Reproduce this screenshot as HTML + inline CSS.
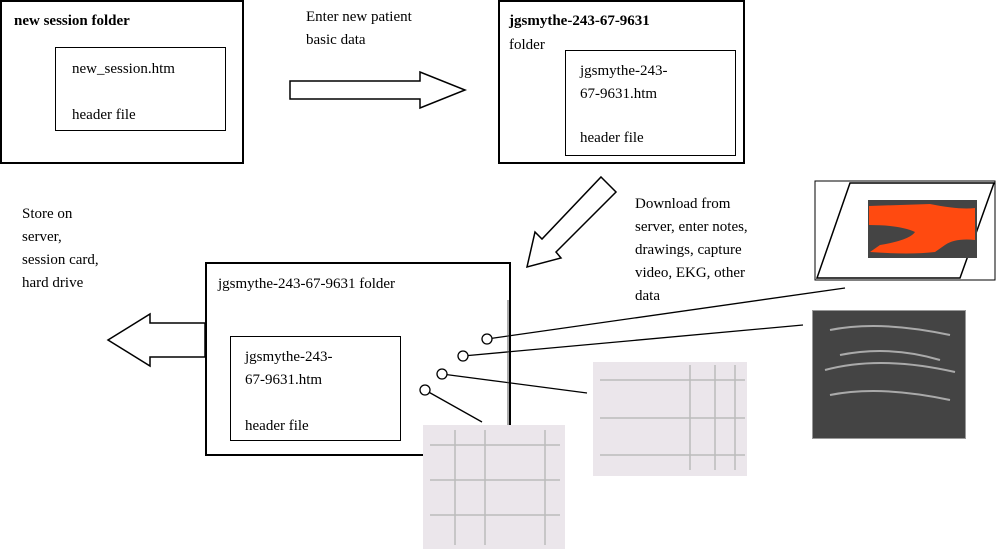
<!DOCTYPE html>
<html><head><meta charset="utf-8"><style>
body{margin:0;width:996px;height:551px;background:#fff;position:relative;overflow:hidden;font-family:"Liberation Serif",serif;font-size:15px;color:#000}
.b{position:absolute;border:2px solid #000;box-sizing:border-box}
.t{position:absolute;white-space:nowrap;line-height:23px}
</style></head><body>
<div class="b" style="left:0;top:0;width:244px;height:164px"></div>
<div class="b" style="left:55px;top:47px;width:171px;height:84px;border-width:1px"></div>
<div class="t" style="left:14px;top:10px;font-weight:bold">new session folder</div>
<div class="t" style="left:72px;top:58px">new_session.htm</div>
<div class="t" style="left:72px;top:104px">header file</div>

<div class="t" style="left:306px;top:6px">Enter new patient<br>basic data</div>

<div class="b" style="left:498px;top:0;width:247px;height:164px"></div>
<div class="b" style="left:565px;top:50px;width:171px;height:106px;border-width:1px"></div>
<div class="t" style="left:509px;top:10px;font-weight:bold">jgsmythe-243-67-9631</div>
<div class="t" style="left:509px;top:34px">folder</div>
<div class="t" style="left:580px;top:60px">jgsmythe-243-<br>67-9631.htm</div>
<div class="t" style="left:580px;top:127px">header file</div>

<div class="t" style="left:635px;top:193px">Download from<br>server, enter notes,<br>drawings, capture<br>video, EKG, other<br>data</div>
<div class="t" style="left:22px;top:203px">Store on<br>server,<br>session card,<br>hard drive</div>

<div class="b" style="left:205px;top:262px;width:306px;height:194px"></div>
<div class="b" style="left:230px;top:336px;width:171px;height:105px;border-width:1px"></div>
<div class="t" style="left:218px;top:273px">jgsmythe-243-67-9631 folder</div>
<div class="t" style="left:245px;top:346px">jgsmythe-243-<br>67-9631.htm</div>
<div class="t" style="left:245px;top:415px">header file</div>

<div style="position:absolute;left:423px;top:425px;width:142px;height:124px;background:#ebe6eb"></div>
<div style="position:absolute;left:593px;top:362px;width:154px;height:114px;background:#ebe6eb"></div>
<div style="position:absolute;left:812px;top:310px;width:152px;height:127px;background:#444;border:1px solid #999"></div>

<svg width="996" height="551" style="position:absolute;left:0;top:0">
<g fill="#fff" stroke="#000" stroke-width="1.5">
<polygon points="290,81 420,81 420,72 465,90 420,108 420,99 290,99"/>
<polygon points="205,323 150,323 150,314 108,340 150,366 150,357 205,357"/>
<polygon points="601,177 616,192 556,252 561,258 527,267 535,232 542,239"/>
</g>
<g stroke="#bbb" stroke-width="1.5" fill="none">
<line x1="430" y1="445" x2="560" y2="445"/><line x1="430" y1="480" x2="560" y2="480"/><line x1="430" y1="515" x2="560" y2="515"/>
<line x1="600" y1="380" x2="745" y2="380"/><line x1="600" y1="418" x2="745" y2="418"/><line x1="600" y1="455" x2="745" y2="455"/>
<line x1="455" y1="430" x2="455" y2="545"/><line x1="485" y1="430" x2="485" y2="545"/><line x1="545" y1="430" x2="545" y2="545"/>
<line x1="690" y1="365" x2="690" y2="470"/><line x1="715" y1="365" x2="715" y2="470"/><line x1="735" y1="365" x2="735" y2="470"/>
</g>
<g stroke="#aaa" stroke-width="2" fill="none">
<path d="M830,330 Q880,320 950,335"/><path d="M825,370 Q880,355 955,372"/><path d="M830,395 Q880,385 950,400"/><path d="M840,355 Q890,345 940,360"/>
</g>
<g stroke="#000" stroke-width="1.3" fill="#fff">
<line x1="487" y1="339" x2="845" y2="288"/><line x1="463" y1="356" x2="803" y2="325"/>
<line x1="442" y1="374" x2="587" y2="393"/><line x1="425" y1="390" x2="482" y2="422"/>
<circle cx="487" cy="339" r="5"/><circle cx="463" cy="356" r="5"/><circle cx="442" cy="374" r="5"/><circle cx="425" cy="390" r="5"/>
</g>
<line x1="508" y1="300" x2="508" y2="425" stroke="#555"/>
<rect x="815" y="181" width="180" height="99" fill="#fff" stroke="#000"/>
<polygon points="850,183 994,183 960,278 817,278" fill="none" stroke="#000" stroke-width="1.5"/>
<rect x="868" y="200" width="109" height="58" fill="#444"/>
<path d="M869,206 L930,204 Q960,210 975,208 L975,240 Q955,238 945,245 L935,252 Q910,255 870,252 L880,245 Q910,240 915,232 Q900,225 869,225 Z" fill="#ff4a10"/>
</svg>
</body></html>
